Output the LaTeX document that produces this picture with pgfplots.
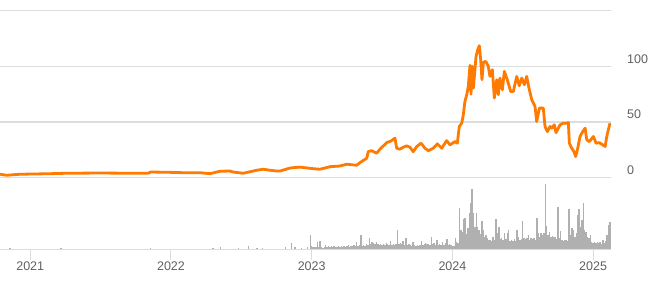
\documentclass[border=0pt]{standalone}
\usepackage{pgfplots}
\pgfplotsset{compat=1.18}
\usepackage{fontspec}
\setmainfont{Liberation Sans}
\definecolor{priceorange}{RGB}{255,122,0}
\definecolor{gridgray}{RGB}{221,221,221}
\definecolor{volgray}{RGB}{176,176,176}
\definecolor{labgray}{RGB}{96,96,96}
\pgfplotsset{panel/.style={
  at={(0pt,45.7pt)}, anchor=south west,
  scale only axis, width=611pt, height=238.6pt,
  xmin=2020.785, xmax=2025.127}}
\begin{document}
\begin{tikzpicture}
\path[use as bounding box] (0pt,0pt) rectangle (659pt,295pt);
% volume panel (bottom part of the shared box)
\begin{axis}[
  panel,
  ymin=0, ymax=238.6,
  axis y line=none,
  axis x line*=bottom,
  x axis line style={gridgray, line width=1.3pt, -},
  ytick=\empty,
  xtick={2021,2022,2023,2024,2025},
  xticklabels={2021,2022,2023,2024,2025},
  xtick pos=bottom, tick align=outside,
  major tick length=11pt,
  x tick style={gridgray, line width=1pt},
  xticklabel style={anchor=north, inner sep=0pt, yshift=-1pt,
    font=\fontsize{12.5}{14}\selectfont, text=labgray},
]
\addplot[ycomb, volgray, line width=1.45pt, mark=none] coordinates {
(2020.856,1) (2021.220,1) (2021.856,1) (2022.300,1) (2022.350,2) (2022.480,1)
(2022.550,3) (2022.610,1) (2022.650,1) (2022.815,2) (2022.856,6) (2022.880,2)
(2022.927,1) (2022.970,2) (2022.990,14)
(2023.00,3) (2023.01,2) (2023.02,2) (2023.03,2) (2023.04,7) (2023.05,2)
(2023.06,8) (2023.07,2) (2023.08,1) (2023.09,2) (2023.10,4) (2023.11,2)
(2023.12,3) (2023.13,2) (2023.14,3) (2023.15,2) (2023.16,3) (2023.17,2)
(2023.18,2) (2023.19,3) (2023.20,2) (2023.21,3) (2023.22,2) (2023.23,3)
(2023.24,2) (2023.25,3) (2023.26,4) (2023.27,2) (2023.28,3) (2023.29,3)
(2023.30,4) (2023.31,3) (2023.32,7) (2023.33,3) (2023.34,4) (2023.35,14)
(2023.36,3) (2023.37,4) (2023.38,3) (2023.39,5) (2023.40,4) (2023.41,11)
(2023.42,5) (2023.43,7) (2023.44,6) (2023.45,5) (2023.46,7) (2023.47,5)
(2023.48,4) (2023.49,5) (2023.50,4) (2023.51,5) (2023.52,4) (2023.53,6)
(2023.54,5) (2023.55,4) (2023.56,8) (2023.57,4) (2023.58,5) (2023.59,4)
(2023.60,5) (2023.61,19) (2023.62,5) (2023.63,6) (2023.64,5) (2023.65,8)
(2023.66,4) (2023.67,11) (2023.68,4) (2023.69,5) (2023.70,4) (2023.71,3)
(2023.72,7) (2023.73,4) (2023.74,3) (2023.75,4) (2023.76,3) (2023.77,4)
(2023.78,8) (2023.79,4) (2023.80,5) (2023.81,6) (2023.82,5) (2023.83,5)
(2023.84,4) (2023.85,12) (2023.86,5) (2023.87,6) (2023.88,4) (2023.89,9)
(2023.90,4) (2023.91,5) (2023.92,4) (2023.93,7) (2023.94,4) (2023.95,6)
(2023.96,10) (2023.97,4) (2023.98,5) (2023.99,4)
(2024.00,3) (2024.01,3) (2024.02,11) (2024.03,7) (2024.04,6) (2024.05,41)
(2024.06,19) (2024.07,17) (2024.08,30) (2024.09,31) (2024.10,15) (2024.11,21)
(2024.12,36) (2024.13,46) (2024.14,60) (2024.15,36) (2024.16,22) (2024.17,36)
(2024.18,22) (2024.19,19) (2024.20,15) (2024.21,28) (2024.22,19) (2024.23,12)
(2024.24,14) (2024.25,11) (2024.26,9) (2024.27,9) (2024.28,8) (2024.29,12)
(2024.30,9) (2024.31,30) (2024.32,16) (2024.33,22) (2024.34,10) (2024.35,11)
(2024.36,9) (2024.37,16) (2024.38,10) (2024.39,16) (2024.40,19) (2024.41,8)
(2024.42,9) (2024.43,8) (2024.44,10) (2024.45,8) (2024.46,19) (2024.47,12)
(2024.48,9) (2024.49,10) (2024.50,28) (2024.51,11) (2024.52,10) (2024.53,11)
(2024.54,14) (2024.55,9) (2024.56,11) (2024.57,10) (2024.58,11) (2024.59,9)
(2024.60,31) (2024.61,16) (2024.62,12) (2024.63,16) (2024.64,14) (2024.65,16)
(2024.66,65) (2024.67,23) (2024.68,14) (2024.69,17) (2024.70,12) (2024.71,13)
(2024.72,12) (2024.73,12) (2024.74,10) (2024.75,42) (2024.76,11) (2024.77,18)
(2024.78,9) (2024.79,8) (2024.80,9) (2024.81,9) (2024.82,8) (2024.83,40)
(2024.84,14) (2024.85,21) (2024.86,19) (2024.87,12) (2024.88,16) (2024.89,34)
(2024.90,40) (2024.91,22) (2024.92,29) (2024.93,46) (2024.94,19) (2024.95,17)
(2024.96,12) (2024.97,11) (2024.98,14) (2024.99,7)
(2025.00,6) (2025.01,7) (2025.02,6) (2025.03,7) (2025.04,6) (2025.05,7)
(2025.06,5) (2025.07,9) (2025.08,6) (2025.09,8) (2025.10,14) (2025.11,24)
(2025.12,27)
};
\end{axis}
% price panel (upper part of the same box)
\begin{axis}[
  panel,
  ymin=-64.3, ymax=150,
  axis line style={draw=none},
  xtick=\empty,
  ytick={0,50,100,150}, yticklabels={0,50,100,{}},
  ymajorgrids, grid style={gridgray, line width=1.3pt},
  yticklabel pos=right, major tick length=0pt,
  tick style={draw=none},
  yticklabel style={anchor=south west, inner sep=0pt, xshift=16pt, yshift=3pt,
    font=\fontsize{12.5}{14}\selectfont, text=labgray},
]
\addplot[priceorange, line width=2.8pt, line join=round] coordinates {
(2020.785,3.1) (2020.832,2.2) (2020.927,3.1) (2021.140,3.6) (2021.259,4.0)
(2021.495,4.2) (2021.730,4.0) (2021.837,4.0) (2021.856,5.1) (2021.969,4.9)
(2022.087,4.5) (2022.206,4.5) (2022.277,3.6) (2022.348,5.8) (2022.419,6.0)
(2022.441,5.1) (2022.514,4.0) (2022.609,6.7) (2022.656,7.6) (2022.704,6.7)
(2022.751,6.0) (2022.775,6.0) (2022.846,8.7) (2022.893,9.3) (2022.917,9.5)
(2023.011,8.1) (2023.059,7.6) (2023.130,9.9) (2023.201,10.5) (2023.249,12.1)
(2023.320,11.2) (2023.343,13.5) (2023.391,17.5) (2023.402,23.4) (2023.426,24.3)
(2023.462,22.0) (2023.485,25.6) (2023.533,31.5) (2023.564,33.0) (2023.592,35.5)
(2023.604,26.5) (2023.627,25.6) (2023.651,27.4) (2023.675,28.6) (2023.698,27.4)
(2023.722,23.4) (2023.746,27.9) (2023.777,31.0) (2023.805,26.5) (2023.829,24.3)
(2023.864,26.5) (2023.893,30.4) (2023.924,26.5) (2023.959,33.3) (2023.983,29.5)
(2024.018,32.4) (2024.035,31.0) (2024.049,46.0) (2024.066,49.0) (2024.077,56.0)
(2024.089,68.5) (2024.102,74.5) (2024.113,82.0) (2024.125,101.0) (2024.132,75.0)
(2024.141,100.0) (2024.149,80.5) (2024.168,109.0) (2024.180,115.0) (2024.191,118.6)
(2024.201,106.0) (2024.210,88.0) (2024.220,103.6) (2024.237,104.5) (2024.255,100.0)
(2024.267,91.0) (2024.284,97.0) (2024.298,71.5) (2024.315,88.0) (2024.326,74.5)
(2024.338,89.5) (2024.355,79.0) (2024.369,95.5) (2024.390,88.0) (2024.414,77.5)
(2024.433,77.5) (2024.457,91.0) (2024.475,82.6) (2024.493,89.5) (2024.511,83.5)
(2024.528,91.0) (2024.544,80.5) (2024.564,70.0) (2024.587,64.0) (2024.599,50.5)
(2024.618,62.5) (2024.646,62.5) (2024.658,46.0) (2024.675,41.4) (2024.694,46.0)
(2024.706,44.5) (2024.724,47.5) (2024.736,40.5) (2024.765,47.5) (2024.788,49.0)
(2024.812,49.0) (2024.824,49.5) (2024.831,31.0) (2024.848,26.5) (2024.864,23.4)
(2024.876,19.0) (2024.888,25.0) (2024.907,37.0) (2024.926,41.4) (2024.943,44.5)
(2024.955,34.0) (2024.973,32.4) (2025.002,37.0) (2025.021,31.0) (2025.044,31.5)
(2025.068,29.5) (2025.085,28.0) (2025.097,37.0) (2025.108,43.0) (2025.120,49.0)
};
\end{axis}
\end{tikzpicture}
\end{document}
